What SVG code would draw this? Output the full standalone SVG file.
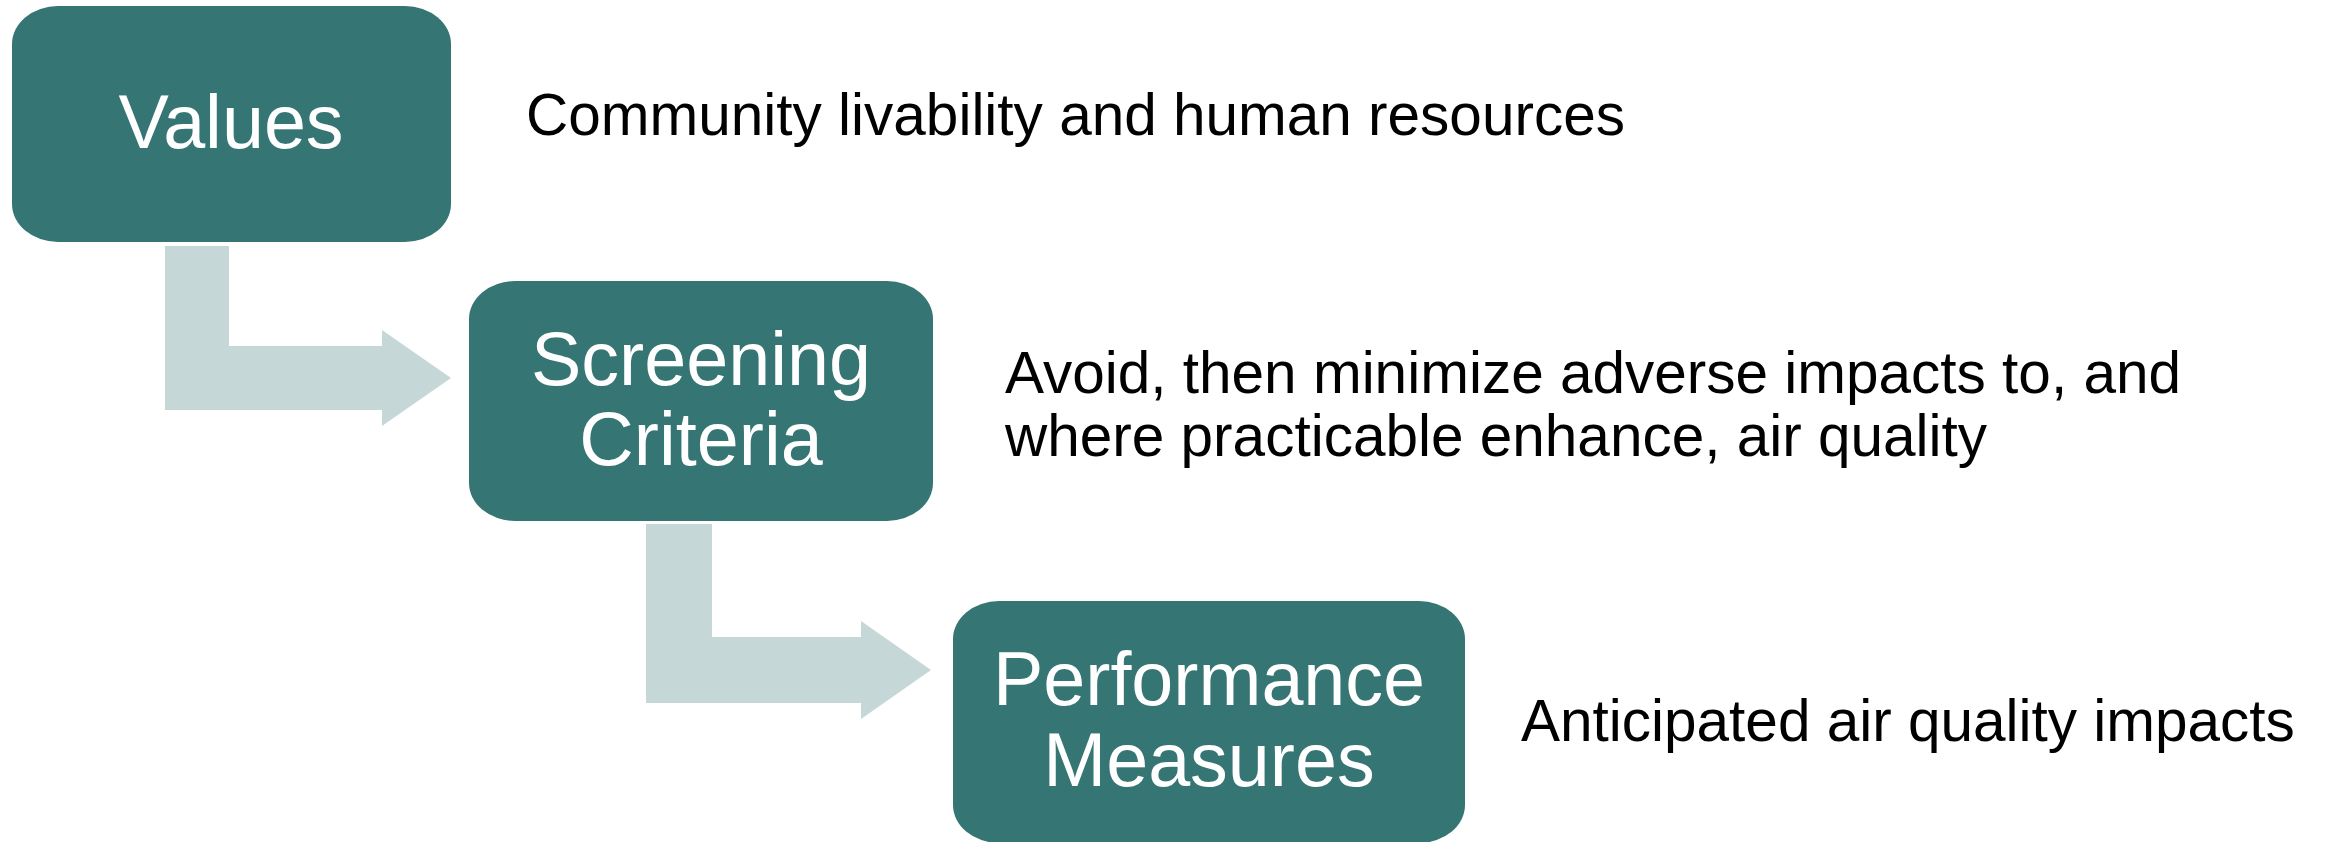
<svg xmlns="http://www.w3.org/2000/svg" width="2325" height="842" viewBox="0 0 2325 842">
<style>
.box{fill:#357573;}
.arrow{fill:#C5D8D7;}
.lbl{font-family:"Liberation Sans",Arial,sans-serif;font-size:75.5px;fill:#FFFFFF;text-anchor:middle;}
.desc{font-family:"Liberation Sans",Arial,sans-serif;font-size:58.5px;fill:#000000;}
</style>
<rect width="2325" height="842" fill="#FFFFFF"/>
<g id="connectors">
<polygon class="arrow" points="165,246 229,246 229,346 382,346 382,330 451,378 382,426 382,410 165,410"/>
<polygon class="arrow" points="646,524 712,524 712,637 861,637 861,621 931,670 861,719 861,703 646,703"/>
</g>
<g id="values">
<rect class="box" x="12" y="6" width="439" height="236" rx="46" ry="38"/>
<text class="lbl" x="231" y="148">Values</text>
</g>
<g id="screening">
<rect class="box" x="469" y="281" width="464" height="240" rx="46" ry="38"/>
<text class="lbl" x="701" y="385">Screening</text>
<text class="lbl" x="701" y="465">Criteria</text>
</g>
<g id="performance">
<rect class="box" x="953" y="601" width="512" height="242" rx="46" ry="38"/>
<text class="lbl" x="1209" y="705">Performance</text>
<text class="lbl" x="1209" y="786">Measures</text>
</g>
<g id="desc-values">
<text class="desc" x="526" y="135">Community livability and human resources</text>
</g>
<g id="desc-screening">
<text class="desc" x="1005" y="393">Avoid, then minimize adverse impacts to, and</text>
<text class="desc" x="1005" y="456">where practicable enhance, air quality</text>
</g>
<g id="desc-performance">
<text class="desc" x="1521" y="741">Anticipated air quality impacts</text>
</g>
</svg>
